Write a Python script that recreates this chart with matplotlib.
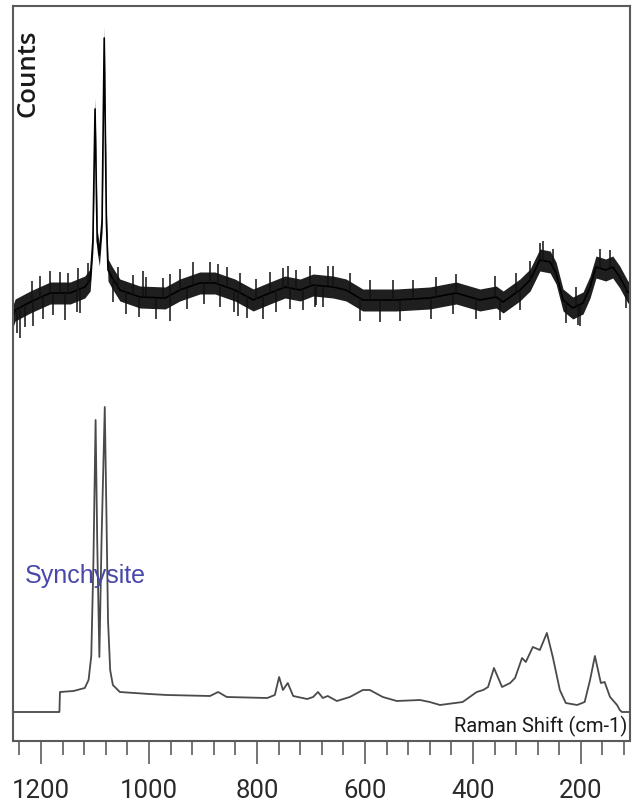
import numpy as np
import matplotlib.pyplot as plt
from matplotlib.ticker import MultipleLocator

# Raman shift (cm-1) and intensity (arbitrary counts)

# measured spectrum (noisy, upper trace) - centre of the noise band
meas_shift = [1252, 1248, 1220, 1183, 1146, 1119, 1109, 1104, 1100, 1096, 1092,
              1087, 1083, 1079, 1076, 1069, 1054, 1017, 970, 943, 906, 878, 841,
              807, 776, 748, 720, 696, 659, 635, 604, 543, 480, 431, 387, 357,
              344, 313, 294, 276, 257, 246, 233, 215, 196, 183, 172, 154, 141,
              128, 113, 109]
meas_counts = [425, 431, 439, 448, 448, 454, 461, 500, 632, 500, 486,
               520, 703, 520, 471, 464, 451, 444, 443, 451, 458, 458, 451,
               441, 448, 454, 451, 456, 454, 451, 441, 441, 443, 448, 441, 444,
               439, 451, 461, 481, 479, 468, 441, 433, 438, 454, 474, 471, 474,
               464, 449, 448]
noise_halfwidth = 11

# noise spikes sticking out of the band (position, length; + up, - down)
spike_shift = [1244, 1239, 1230, 1217, 1215, 1202, 1196, 1183, 1178, 1165,
               1156, 1150, 1133, 1131, 1128, 1113,
               1067, 1058, 1043, 1030, 1018, 1011, 1006, 987, 974, 961, 961,
               943, 930, 919, 899, 887, 872, 868, 856, 843, 835, 831, 819, 801,
               789, 776, 764, 751, 743, 739, 727, 714, 702, 693, 690,
               678, 669, 659, 628, 609, 591, 572, 548, 535, 511, 478, 469, 437,
               431, 394, 359, 350, 320, 313, 294, 276, 270, 252, 228, 209, 206,
               202, 165, 146, 117]
spike_len = [-22, -33, -18, 16, -23, 17, -20, 18, -19, 16,
             -27, 15, -18, 17, -22, 14,
             -20, 15, -18, 14, -16, 25, 16, -18, 15, -25, 18,
             16, -17, 20, -16, 17, 15, -18, 16, -19, -22, 15, -18, 14,
             -20, 16, -17, 15, 18, -16, 14, -17, 15, -18, -15,
             -16, 15, 17, 14, -20, 15, -18, 15, -17, 14, -17, 15, -16,
             14, -16, 17, -16, 15, -15, 14, 10, 14, 12, -16, 14, -14,
             -17, 13, 12, -15]

# reference spectrum (lower trace)
ref_shift = [1252, 1166, 1165, 1140, 1119, 1112, 1107, 1103, 1099, 1096, 1092,
             1088, 1082, 1079, 1076, 1072, 1067, 1054, 1000, 967, 887, 872, 856,
             781, 767, 759, 752, 743, 733, 707, 696, 687, 678, 669, 652, 628,
             604, 591, 567, 541, 498, 480, 461, 419, 393, 381, 372, 361, 346,
             331, 322, 309, 302, 289, 276, 263, 252, 239, 228, 207, 193, 183,
             174, 163, 156, 146, 133, 128, 124, 109]
ref_counts = [29, 29, 49, 50, 53, 61, 85, 180, 321, 200, 84,
              200, 334, 230, 121, 71, 56, 49, 47, 46, 45, 49, 44,
              43, 46, 64, 51, 58, 45, 42, 44, 49, 43, 45, 40, 44,
              51, 51, 44, 40, 41, 39, 36, 39, 49, 51, 54, 73, 54,
              58, 63, 83, 79, 94, 91, 108, 84, 51, 38, 36, 39, 61,
              85, 58, 59, 44, 36, 31, 29, 29]

major_ticks = [1200, 1000, 800, 600, 400, 200]

fig = plt.figure(figsize=(6.33, 8.07), dpi=100)
ax = fig.add_axes([13 / 633, 66 / 807, 617 / 633, 735 / 807])

meas_shift = np.array(meas_shift)
meas_counts = np.array(meas_counts)
ax.fill_between(meas_shift, meas_counts - noise_halfwidth, meas_counts + noise_halfwidth,
                color="black", alpha=0.88, linewidth=0)
ax.plot(meas_shift, meas_counts, color="black", lw=1.2)
spike_base = np.interp(spike_shift, meas_shift[::-1], meas_counts[::-1])
spike_tip = spike_base + np.sign(spike_len) * noise_halfwidth + np.array(spike_len) * 0.6
ax.vlines(spike_shift, spike_base, spike_tip, color="#111111", lw=1.1)

ax.plot(ref_shift, ref_counts, color="#4a4a4a", lw=1.3)

ax.text(1230, 165, "Synchysite", color="#4848aa", fontsize=18,
        family="Liberation Sans", ha="left", va="center")
ax.text(0.995, 0.0195, "Raman Shift (cm-1)", transform=ax.transAxes, fontsize=14.5,
        family="Roboto", ha="right", va="center", color="#1a1a1a")
ax.text(0.024, 0.909, "Counts", transform=ax.transAxes, fontsize=18.5,
        family="Open Sans", weight="semibold", rotation=90, ha="center", va="center",
        color="#1a1a1a")

ax.set_xlim(1252, 109)
ax.set_ylim(0, 735)

ax.set_xticks(major_ticks)
ax.xaxis.set_minor_locator(MultipleLocator(40))
ax.set_yticks([])
ax.tick_params(axis="x", which="major", direction="out", length=16.5, width=1.1,
               color="#505050", pad=11, labelsize=18.5, labelcolor="#2a2a2a")
ax.tick_params(axis="x", which="minor", direction="out", length=10, width=1.1,
               color="#505050")
for lab in ax.get_xticklabels():
    lab.set_family("Roboto")

for s in ax.spines.values():
    s.set_color("#5a5a5a")
    s.set_linewidth(1.5)

plt.savefig("out.png", dpi=100)
